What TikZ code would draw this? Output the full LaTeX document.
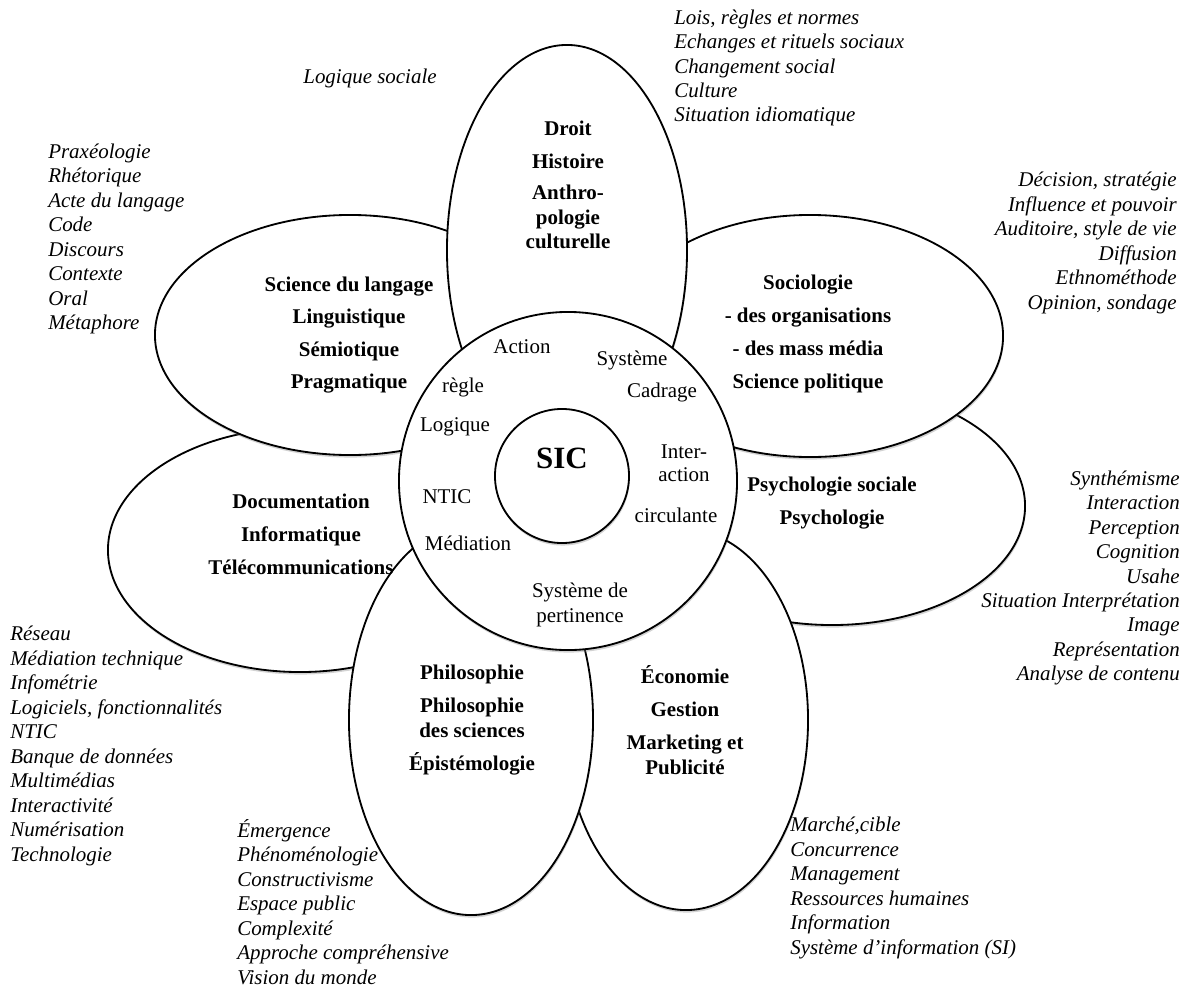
\documentclass[tikz,border=0pt]{standalone}
\usepackage{fontspec}
\setmainfont{Liberation Serif}
\usetikzlibrary{shapes.geometric,shadows}
\tikzset{
    %Define style for the petals
    petal/.style={
           ellipse,
           draw=black, line width=1.3pt,
           fill=white,
           inner sep=0pt,
           drop shadow={shadow xshift=0.5pt, shadow yshift=-1.8pt, opacity=0.35}},
    %Define style for the two centre discs
    hub/.style={
           circle,
           draw=black, line width=1.3pt,
           fill=white,
           inner sep=0pt,
           drop shadow={shadow xshift=0.5pt, shadow yshift=-1.8pt, opacity=0.35}},
    %Define style for the bold disciplines
    field/.style={
           font=\fontsize{14.9}{17.4}\selectfont\bfseries,
           align=center,
           inner sep=0pt},
    %Define style for the concepts of the centre
    concept/.style={
           font=\fontsize{14.9}{17.4}\selectfont,
           align=center,
           inner sep=0pt},
    %Define style for the italic lists
    topics/.style={
           font=\fontsize{14.9}{17.4}\selectfont\itshape,
           inner sep=0pt},
}

\begin{document}
\begin{tikzpicture}[x=0.025cm, y=-0.025cm]
 \useasboundingbox (0,0) rectangle (1189,992);
 %petals
    \node[petal, minimum width=9.6cm, minimum height=6.1cm] (doc) at (300,550) {};
    \node[petal, minimum width=9.65cm, minimum height=5.95cm] (psy) at (832,506) {};
    \node[petal, minimum width=9.75cm, minimum height=6cm] (lang) at (350,335) {};
    \node[petal, minimum width=9.65cm, minimum height=6.05cm] (soc) at (810,336) {};
    \node[petal, minimum width=6cm, minimum height=10.25cm] (droit) at (567,250) {};
    \node[petal, minimum width=6.1cm, minimum height=9.5cm] (eco) at (686,720) {};
    \node[petal, minimum width=6.1cm, minimum height=9.75cm] (philo) at (471,720) {};
 %centre
    \node[hub, minimum size=8.45cm] (ring) at (568,481) {};
    \node[hub, minimum size=3.35cm] (core) at (562,476) {};
    \node[font=\fontsize{22}{26}\selectfont\bfseries, inner sep=0pt] (sic) at (562,458) {SIC};
 %disciplines
    \node[field] (droitT) at (568,185) {Droit\\[6pt]Histoire\\[5pt]Anthro-\\pologie\\culturelle};
    \node[field] (langT) at (349,335) {Science du langage\\[5.5pt]Linguistique\\[5.5pt]Sémiotique\\[5.5pt]Pragmatique};
    \node[field] (socT) at (808,334) {Sociologie\\[6pt]- des organisations\\[6pt]- des mass média\\[6pt]Science politique};
    \node[field] (psyT) at (832,503) {Psychologie sociale\\[6pt]Psychologie};
    \node[field] (docT) at (301,534) {Documentation\\[6pt]Informatique\\[6pt]Télécommunications};
    \node[field] (philoT) at (472,720) {Philosophie\\[6pt]Philosophie\\des sciences\\[6pt]Épistémologie};
    \node[field] (ecoT) at (685,720) {Économie\\[6pt]Gestion\\[6pt]Marketing et\\Publicité};
 %concepts
    \node[concept] (action) at (522,347) {Action};
    \node[concept] (systeme) at (632,360) {Système};
    \node[concept] (regle) at (463,387) {règle};
    \node[concept] (cadrage) at (662,392) {Cadrage};
    \node[concept] (logique) at (455,427) {Logique};
    \node[concept, font=\fontsize{14.9}{16}\selectfont] (inter) at (684,463) {Inter-\\action};
    \node[concept] (circ) at (676,515) {circulante};
    \node[concept] (ntic) at (447,497) {NTIC};
    \node[concept] (media) at (468,543) {Médiation};
    \node[concept] (pert) at (580,605) {Système de\\pertinence};
 %lists
    \node[topics] (sociale) at (370,78) {Logique sociale};
    \node[topics, anchor=west, align=left] (droitL) at (674,68)
        {Lois, règles et normes\\Echanges et rituels sociaux\\Changement social\\Culture\\Situation idiomatique};
    \node[topics, anchor=west, align=left] (langL) at (48,239)
        {Praxéologie\\Rhétorique\\Acte du langage\\Code\\Discours\\Contexte\\Oral\\Métaphore};
    \node[topics, anchor=east, align=right] (socL) at (1177,243)
        {Décision, stratégie\\Influence et pouvoir\\Auditoire, style de vie\\Diffusion\\Ethnométhode\\Opinion, sondage};
    \node[topics, anchor=east, align=right] (psyL) at (1180,578)
        {Synthémisme\\Interaction\\Perception\\Cognition\\Usahe\\Situation Interprétation\\Image\\Représentation\\Analyse de contenu};
    \node[topics, anchor=west, align=left] (docL) at (10,746)
        {Réseau\\Médiation technique\\Infométrie\\Logiciels, fonctionnalités\\NTIC\\Banque de données\\Multimédias\\Interactivité\\Numérisation\\Technologie};
    \node[topics, anchor=west, align=left] (philoL) at (237,902)
        {Émergence\\Phénoménologie\\Constructivisme\\Espace public\\Complexité\\Approche compréhensive\\Vision du monde};
    \node[topics, anchor=west, align=left] (ecoL) at (790,888)
        {Marché,cible\\Concurrence\\Management\\Ressources humaines\\Information\\Système d’information (SI)};
\end{tikzpicture}
\end{document}
